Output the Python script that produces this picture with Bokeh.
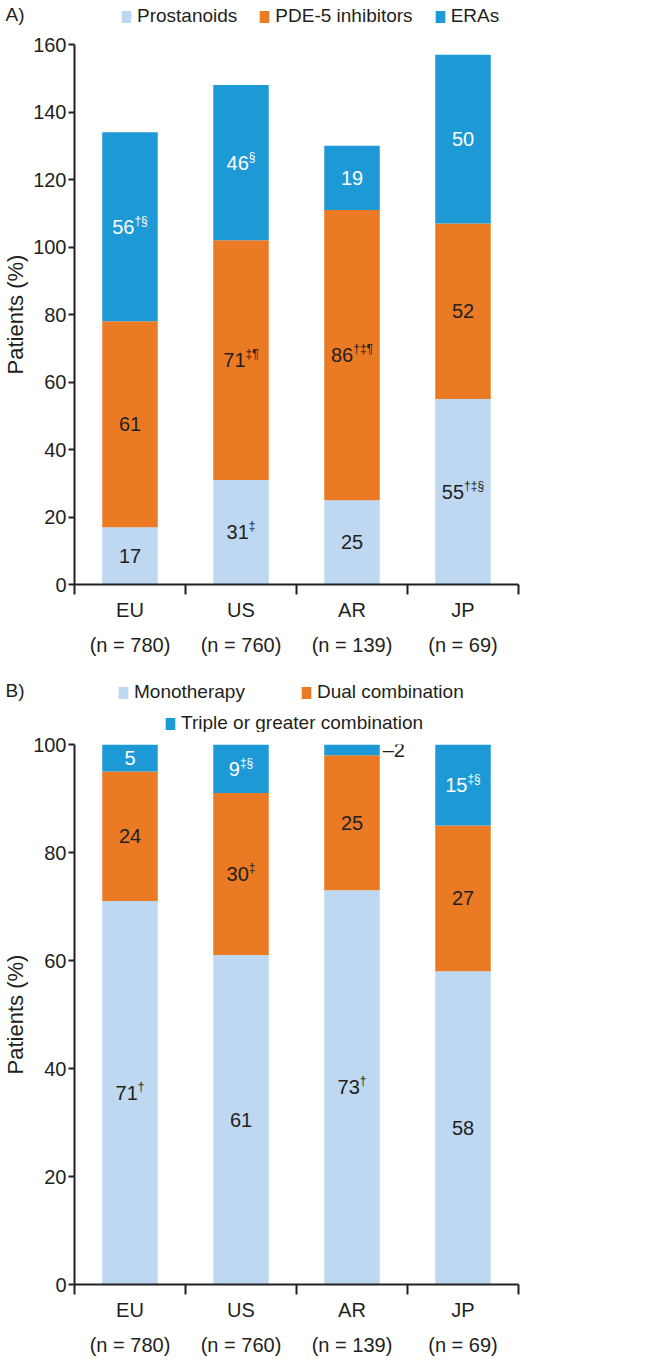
from bokeh.plotting import figure
from bokeh.models import (Range1d, LinearAxis, FixedTicker,
                          Legend, LegendItem, ColumnDataSource)
from bokeh.layouts import column
from bokeh.embed import file_html
from bokeh.resources import INLINE
from bokeh.core.properties import value

# ---------------- data ----------------
regions = ["EU", "US", "AR", "JP"]
n_patients = ["780", "760", "139", "69"]

a_series = ["Prostanoids", "PDE-5 inhibitors", "ERAs"]
a_prostanoids = [17, 31, 25, 55]
a_pde5 = [61, 71, 86, 52]
a_eras = [56, 46, 19, 50]
a_prostanoids_marks = ["", "‡", "", "†‡§"]
a_pde5_marks = ["", "‡¶", "†‡¶", ""]
a_eras_marks = ["†§", "§", "", ""]
a_ticks = [0, 20, 40, 60, 80, 100, 120, 140, 160]

b_series = ["Monotherapy", "Dual combination", "Triple or greater combination"]
b_mono = [71, 61, 73, 58]
b_dual = [24, 30, 25, 27]
b_triple = [5, 9, 2, 15]
b_mono_marks = ["†", "", "†", ""]
b_dual_marks = ["", "‡", "", ""]
b_triple_marks = ["", "‡§", "", "‡§"]
b_ticks = [0, 20, 40, 60, 80, 100]

# ---------------- style ----------------
FONT = "Liberation Sans"
FS = 20
SUP = 12
LFS = 19
DARK = "#231f20"
COLORS = ["#bdd8f0", "#eb7a25", "#1d9ad6"]
FRAME_W = 444
FRAME_H = 540
BAR_W = 0.5
NAN = float("nan")

EM = {"(": 0.333, ")": 0.333, " ": 0.278, "=": 0.584, "¶": 0.537}


def tw(s, fs):
    return sum(EM.get(c, 0.556) for c in s) * fs


def make_header(letter, series, height, letter_y, rows):
    h = figure(frame_width=FRAME_W, frame_height=height, x_range=Range1d(0, FRAME_W),
               y_range=Range1d(0, height), output_backend="svg", toolbar_location=None,
               x_axis_location=None, min_border=0, min_border_right=14)
    h.outline_line_color = None
    h.xgrid.grid_line_color = None
    h.ygrid.grid_line_color = None
    # panel letter as the only (horizontal) tick label of an otherwise hidden axis
    ya = h.yaxis[0]
    ya.ticker = FixedTicker(ticks=[letter_y])
    ya.major_label_overrides = {letter_y: letter}
    ya.axis_line_color = None
    ya.major_tick_line_color = None
    ya.minor_tick_line_color = None
    ya.major_tick_out = 0
    ya.major_tick_in = 0
    ya.major_label_standoff = 50
    ya.major_label_text_font = FONT
    ya.major_label_text_font_size = f"{LFS}px"
    ya.major_label_text_color = DARK
    dummies = [h.vbar(x=[NAN], top=[NAN], width=1, color=c, line_color=None) for c in COLORS]
    for idxs, lx, ly, spacing in rows:
        items = [LegendItem(label=series[j], renderers=[dummies[j]]) for j in idxs]
        lg = Legend(items=items, orientation="horizontal", location=(lx, ly),
                    glyph_width=12, glyph_height=15, label_standoff=5, spacing=spacing,
                    padding=0, margin=0, border_line_color=None, background_fill_alpha=0,
                    label_text_font=FONT, label_text_font_size=f"{LFS}px",
                    label_text_color=DARK, label_height=20)
        h.add_layout(lg, "center")
    return h


def make_panel(series, values, marks, ticks, b_top, b_bottom):
    ncat = len(regions)
    centers = [i + 0.5 for i in range(ncat)]
    p = figure(x_range=Range1d(0, ncat), y_range=Range1d(ticks[0], ticks[-1]),
               frame_width=FRAME_W, frame_height=FRAME_H, output_backend="svg",
               toolbar_location=None, x_axis_location=None,
               min_border_left=0, min_border_right=14,
               min_border_top=b_top, min_border_bottom=b_bottom)
    p.outline_line_color = None
    p.xgrid.grid_line_color = None
    p.ygrid.grid_line_color = None

    data = {"x": centers, "region": regions}
    for name, vals in zip(series, values):
        data[name] = vals
    src = ColumnDataSource(data)
    p.vbar_stack(series, x="x", width=BAR_W, color=COLORS, line_color=None, source=src)

    # segment labels
    cat_px = FRAME_W / ncat
    lab = {"x": [], "y": [], "num": [], "sup": [], "xo": [], "sxo": [], "color": []}
    base = [0] * ncat
    for k, (vals, mks) in enumerate(zip(values, marks)):
        for i, v in enumerate(vals):
            yc = base[i] + v / 2
            if v < 4:
                num = "–" + str(v)
                xo = BAR_W * cat_px / 2 + 3
                col = DARK
                sup = ""
            else:
                num = str(v)
                sup = mks[i]
                w = tw(num, FS) + tw(sup, SUP)
                xo = -w / 2
                col = "white" if k == 2 else DARK
            lab["x"].append(centers[i])
            lab["y"].append(yc)
            lab["num"].append(num)
            lab["sup"].append(sup)
            lab["xo"].append(xo)
            lab["sxo"].append(xo + tw(num, FS))
            lab["color"].append(col)
            base[i] += v
    ls = ColumnDataSource(lab)
    p.text(x="x", y="y", text="num", x_offset="xo", source=ls, text_align="left",
           text_baseline="middle", text_font=value(FONT), text_font_size=f"{FS}px",
           text_color="color")
    p.text(x="x", y="y", text="sup", x_offset="sxo", y_offset=-6, source=ls,
           text_align="left", text_baseline="middle", text_font=value(FONT),
           text_font_size=f"{SUP}px", text_color="color")

    # y axis
    ya = p.yaxis[0]
    ya.ticker = FixedTicker(ticks=ticks)
    ya.axis_label = "Patients (%)"
    ya.axis_label_text_font = FONT
    ya.axis_label_text_font_size = "22px"
    ya.axis_label_text_font_style = "normal"
    ya.axis_label_text_color = DARK
    ya.axis_label_standoff = 2
    ya.major_label_text_font = FONT
    ya.major_label_text_font_size = f"{FS}px"
    ya.major_label_text_color = DARK
    ya.major_label_standoff = 2
    ya.major_tick_out = 6
    ya.major_tick_in = 0
    ya.minor_tick_line_color = None
    ya.axis_line_width = 2
    ya.axis_line_color = DARK
    ya.major_tick_line_width = 2
    ya.major_tick_line_color = DARK

    # x axes: boundary ticks + category names
    bounds = list(range(ncat + 1))
    tick_axis = LinearAxis(ticker=FixedTicker(ticks=bounds),
                           major_label_overrides={b: "" for b in bounds},
                           major_tick_out=10, major_tick_in=0, major_label_standoff=0,
                           major_label_text_font_size="1px",
                           minor_tick_line_color=None, axis_line_width=2,
                           axis_line_color=DARK, major_tick_line_width=2,
                           major_tick_line_color=DARK)
    cat_axis = LinearAxis(ticker=FixedTicker(ticks=centers),
                          major_label_overrides={c: f"{r}\n(n = {n})"
                                                 for c, r, n in zip(centers, regions, n_patients)},
                          major_tick_line_color=None, axis_line_color=None,
                          minor_tick_line_color=None,
                          major_label_text_font=FONT, major_label_text_font_size=f"{FS}px",
                          major_label_text_color=DARK, major_label_standoff=4,
                          major_label_text_line_height=1.6,
                          major_tick_out=0, major_tick_in=0)
    p.add_layout(tick_axis, "below")
    p.add_layout(cat_axis, "below")
    return p


hA = make_header("A)", a_series, 32, 18, [([0, 1, 2], 46, 5, 21)])
pA = make_panel(a_series, [a_prostanoids, a_pde5, a_eras],
                [a_prostanoids_marks, a_pde5_marks, a_eras_marks], a_ticks, 12, 76)
hB = make_header("B)", b_series, 72, 42, [([0, 1], 43, 29, 55), ([2], 90, -2, 20)])
pB = make_panel(b_series, [b_mono, b_dual, b_triple],
                [b_mono_marks, b_dual_marks, b_triple_marks], b_ticks, 12, 68)

layout = column(hA, pA, hB, pB, spacing=0)
open("out.html", "w").write(file_html(layout, INLINE))
